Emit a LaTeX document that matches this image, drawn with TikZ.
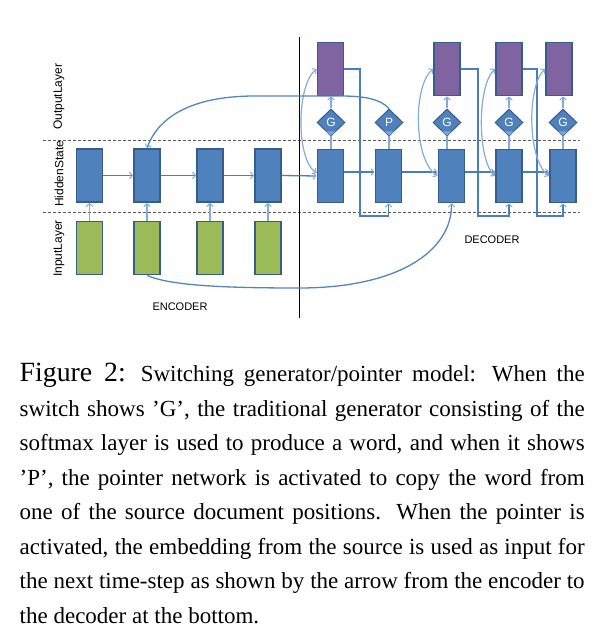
\documentclass[tikz,border=0pt]{standalone}
\usepackage{fontspec}
\setmainfont{Liberation Serif}
\newfontfamily\arialf{Liberation Sans}
\usetikzlibrary{arrows.meta,shapes.geometric,calc}
\definecolor{bxblue}{HTML}{4F81BD}
\definecolor{bxline}{HTML}{385D8A}
\definecolor{bxgreen}{HTML}{9BBB59}
\definecolor{bxpurple}{HTML}{8064A2}
\definecolor{conn}{HTML}{4A7EBB}
\definecolor{lconn}{HTML}{86ABDB}
\definecolor{dtip}{HTML}{7FA4D4}
\begin{document}
\begin{tikzpicture}[x=1pt,y=-1pt,
  box/.style={draw=bxline,line width=1.7pt,minimum width=26pt,minimum height=53pt,inner sep=0pt},
  hid/.style={box,fill=bxblue},
  inp/.style={box,fill=bxgreen},
  outb/.style={box,fill=bxpurple},
  sw/.style={diamond,draw=bxline,line width=1pt,fill=bxblue,minimum width=28pt,minimum height=27pt,inner sep=0pt,aspect=1,text=white,font=\arialf\fontsize{12}{12}\selectfont},
  barb/.tip={Straight Barb[length=3pt,width=6.5pt,line width=1pt]},
  hconn/.style={draw=conn,line width=1.3pt,-{barb[color=lconn]}},
  vconn/.style={draw=lconn,line width=1.5pt,-{barb}},
  fb/.style={draw=conn,line width=1.3pt,-{barb[color=lconn]}},
  curv/.style={draw=lconn,line width=1.2pt,{barb}-{barb}},
  ptr/.style={draw=conn!85!lconn,line width=1.3pt,-{barb[color=lconn]}},
  sepline/.style={draw=black!65,line width=0.8pt,dash pattern=on 3pt off 2pt},
  lab/.style={font=\arialf\fontsize{12}{12}\selectfont,inner sep=0pt,rotate=90,anchor=west},
  tlab/.style={font=\arialf\fontsize{11}{11}\selectfont,inner sep=0pt},
  capline/.style={anchor=base west,inner sep=0pt,font=\fontsize{23}{34.5}\selectfont}
]
\fill[white] (0,0) rectangle (609,636);
\useasboundingbox (0,0) rectangle (609,636);

% layer separators
\draw[sepline] (43,140) -- (580,140);
\draw[sepline] (43,212) -- (580,212);
\draw[black,line width=1pt] (299,37) -- (299,318);

% encoder
\node[hid] (e1) at (89.5,175.5) {};
\node[hid] (e2) at (147,175.5) {};
\node[hid] (e3) at (210,175.5) {};
\node[hid] (e4) at (268,175.5) {};
\node[inp] (i1) at (89.5,248) {};
\node[inp] (i2) at (147,248) {};
\node[inp] (i3) at (210,248) {};
\node[inp] (i4) at (268,248) {};

% decoder
\node[hid] (h1) at (330.5,176) {};
\node[hid] (h2) at (388.5,176) {};
\node[hid] (h3) at (451.5,176) {};
\node[hid] (h4) at (509,176) {};
\node[hid] (h5) at (563,176) {};
\node[outb] (p1) at (330.5,69) {};
\node[outb] (p3) at (447,69) {};
\node[outb] (p4) at (509,69) {};
\node[outb] (p5) at (559,69) {};

% connectors
\foreach \a/\b in {e1/e2,e2/e3,e3/e4} \draw[hconn] (\a.east) -- (\b.west);
\draw[hconn] (e4.east) -- (h1.west);
\foreach \n in {1,...,4} \draw[vconn] (i\n.north) -- (e\n.south);
\foreach \a/\b in {h1/h2,h2/h3,h3/h4,h4/h5} \draw[hconn] ([yshift=4pt]\a.east) -- ([yshift=4pt]\b.west);

\draw[fb] (p1.east) -| (360,216) -| (h2.south);
\draw[fb] (p3.east) -| (478,216) -| (h4.south);
\draw[fb] (p4.east) -| (537,216) -| (h5.south);

\draw[curv] (p1.west) .. controls (296,85) and (296,160) .. ([yshift=3pt]h1.west);
\draw[curv] (p3.west) .. controls (413,85) and (413,160) .. (h3.west);
\draw[curv] (p4.west) .. controls (477,85) and (477,160) .. (h4.west);
\draw[curv] (p5.west) .. controls (527,85) and (527,160) .. (h5.west);

% switches
\node[sw] (g1) at (331,122.5) {G};
\node[sw] (g2) at (389,122.5) {P};
\node[sw] (g3) at (447,122.5) {G};
\node[sw] (g4) at (509,122.5) {G};
\node[sw] (g5) at (563,122.5) {G};
\foreach \g in {g1,g2,g3,g4,g5}
  \fill[dtip] ([shift={(-4.6pt,5.2pt)}]\g.south) -- ([shift={(4.6pt,5.2pt)}]\g.south) -- ([shift={(0pt,0.9pt)}]\g.south) -- cycle;
\foreach \h/\g in {h1/g1,h2/g2,h3/g3,h4/g4,h5/g5} \draw[vconn,-] (\g.south |- \h.north) -- (\g.south);
\foreach \g/\p in {g1/p1,g3/p3,g4/p4,g5/p5} \draw[vconn] (\g.north) -- (\g.north |- \p.south);

% pointer and copy arrows
\draw[ptr] (g2.north) .. controls (380,99) and (365,96) .. (340,96) -- (255,96) .. controls (190,96) and (158,118) .. (e2.north);
\draw[ptr] (i2.south) .. controls (170,286) and (230,288) .. (299,288) .. controls (400,288) and (452,250) .. (h3.south);

% labels
\node[lab] (lo) at (59,130) {OutputLayer};
\node[lab] (lh) at (59,207) {HiddenState};
\node[lab] (li) at (59,277) {InputLayer};
\node[tlab] (enc) at (180,307) {ENCODER};
\node[tlab] (dec) at (492,240) {DECODER};

% caption
\node[capline] (c1) at (19.5,381.7) {\makebox[565pt][s]{{\fontsize{27.8}{30}\selectfont Figure 2:}\hspace{15pt}Switching generator/pointer model: When the}};
\node[capline] (c2) at (19.5,416.2) {\makebox[565pt][s]{switch shows ’G’, the traditional generator consisting of the}};
\node[capline] (c3) at (19.5,450.7) {\makebox[565pt][s]{softmax layer is used to produce a word, and when it shows}};
\node[capline] (c4) at (19.5,485.2) {\makebox[565pt][s]{’P’, the pointer network is activated to copy the word from}};
\node[capline] (c5) at (19.5,519.7) {\makebox[565pt][s]{one of the source document positions. When the pointer is}};
\node[capline] (c6) at (19.5,554.2) {\makebox[565pt][s]{activated, the embedding from the source is used as input for}};
\node[capline] (c7) at (19.5,588.7) {\makebox[565pt][s]{the next time-step as shown by the arrow from the encoder to}};
\node[capline] (c8) at (19.5,623.2) {the decoder at the bottom.};
\end{tikzpicture}
\end{document}
